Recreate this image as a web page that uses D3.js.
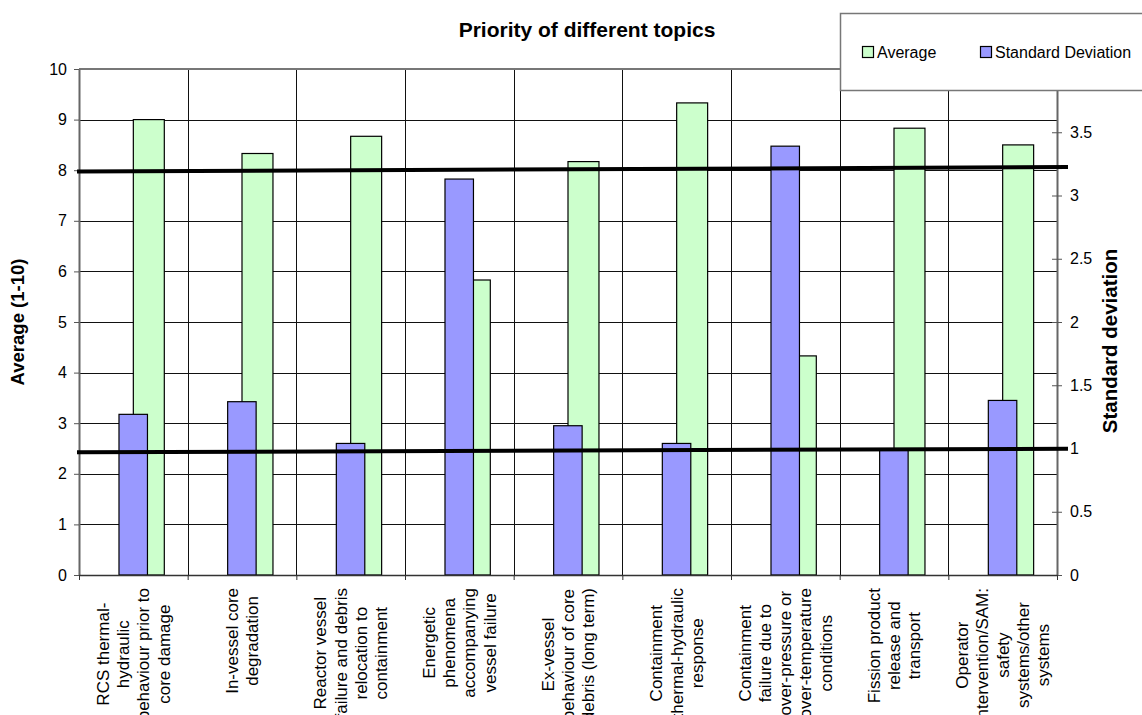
<!DOCTYPE html>
<html>
<head>
<meta charset="utf-8">
<style>
body { margin: 0; background: #fff; }
svg { display: block; font-family: "Liberation Sans", Arial, sans-serif; }
</style>
</head>
<body>
<svg width="1142" height="715"></svg>
<script src="https://cdn.jsdelivr.net/npm/d3@7"></script>
<script>
// topic labels, one entry per line of the wrapped label
var topics = [
    ["RCS thermal-", "hydraulic", "behaviour prior to", "core damage"],
    ["In-vessel core", "degradation"],
    ["Reactor vessel", "failure and debris", "relocation to", "containment"],
    ["Energetic", "phenomena", "accompanying", "vessel failure"],
    ["Ex-vessel", "behaviour of core", "debris (long term)"],
    ["Containment", "thermal-hydraulic", "response"],
    ["Containment", "failure due to", "over-pressure or", "over-temperature", "conditions"],
    ["Fission product", "release and", "transport"],
    ["Operator", "intervention/SAM:", "safety", "systems/other", "systems"]
];
var average = [9.0, 8.33, 8.67, 5.83, 8.17, 9.33, 4.33, 8.83, 8.5];
var stdDev = [1.27, 1.37, 1.04, 3.13, 1.18, 1.04, 3.39, 0.99, 1.38];
var avgTicks = [0, 1, 2, 3, 4, 5, 6, 7, 8, 9, 10];
var stdTicks = [0, 0.5, 1, 1.5, 2, 2.5, 3, 3.5];
// hand drawn threshold lines, in standard deviation units (left end, right end)
var thresholds = [[3.19, 3.225], [0.97, 0.998]];

var svg = d3.select("svg"),
    margin = { top: 69, right: 85, bottom: 140, left: 79 },
    width = +svg.attr("width") - margin.left - margin.right,
    height = +svg.attr("height") - margin.top - margin.bottom;

var x = d3.scaleBand().domain(d3.range(topics.length)).range([0, width]);
var xEdge = d3.scaleLinear().domain([0, topics.length]).range([0, width]);
var yAvg = d3.scaleLinear().domain([0, 10]).range([height, 0]);
var yStd = d3.scaleLinear().domain([0, 4]).range([height, 0]);
var bw = x.bandwidth();

var g = svg.append("g")
    .attr("transform", "translate(" + margin.left + "," + margin.top + ")");

// gridlines
g.append("g").selectAll("line")
    .data(avgTicks.slice(1, -1))
    .enter().append("line")
    .attr("x1", 0).attr("x2", width)
    .attr("y1", function (d) { return Math.round(yAvg(d)) + 0.5; })
    .attr("y2", function (d) { return Math.round(yAvg(d)) + 0.5; })
    .attr("stroke", "#111").attr("stroke-width", 1);

g.append("g").selectAll("line")
    .data(d3.range(1, topics.length))
    .enter().append("line")
    .attr("x1", function (d) { return Math.round(xEdge(d)) + 0.5; })
    .attr("x2", function (d) { return Math.round(xEdge(d)) + 0.5; })
    .attr("y1", 0).attr("y2", height)
    .attr("stroke", "#111").attr("stroke-width", 1);

g.append("line")
    .attr("x1", 0).attr("x2", width).attr("y1", 0).attr("y2", 0)
    .attr("stroke", "#777").attr("stroke-width", 2);

// bars: average first, std dev drawn over it
g.append("g").selectAll("rect")
    .data(average)
    .enter().append("rect")
    .attr("x", function (d, i) { return x(i) + bw * 0.5; })
    .attr("width", bw * 0.285)
    .attr("y", function (d) { return yAvg(d); })
    .attr("height", function (d) { return height - yAvg(d); })
    .attr("fill", "#ccffcc")
    .attr("stroke", "#000").attr("stroke-width", 1.2);

g.append("g").selectAll("rect")
    .data(stdDev)
    .enter().append("rect")
    .attr("x", function (d, i) { return x(i) + bw * 0.368; })
    .attr("width", bw * 0.262)
    .attr("y", function (d) { return yStd(d); })
    .attr("height", function (d) { return height - yStd(d); })
    .attr("fill", "#9999ff")
    .attr("stroke", "#000").attr("stroke-width", 1.2);

// axes
var leftAxis = g.append("g")
    .call(d3.axisLeft(yAvg).tickValues(avgTicks).tickSize(5).tickPadding(7).tickSizeOuter(0));
leftAxis.select(".domain").attr("stroke", "#666").attr("stroke-width", 2);
leftAxis.selectAll("line").attr("stroke", "#555");
leftAxis.selectAll("text").attr("font-size", 16).attr("fill", "#000").attr("font-family", null);

var rightAxis = g.append("g")
    .attr("transform", "translate(" + width + ",0)")
    .call(d3.axisRight(yStd).tickValues(stdTicks).tickSize(5).tickPadding(8).tickSizeOuter(0)
        .tickFormat(function (d) { return String(d); }));
rightAxis.select(".domain").attr("stroke", "#666").attr("stroke-width", 2);
rightAxis.selectAll(".tick line").attr("x1", -5).attr("stroke", "#555");
rightAxis.selectAll("text").attr("font-size", 16).attr("fill", "#000").attr("font-family", null);

var bottomAxis = g.append("g")
    .attr("transform", "translate(0," + height + ")")
    .call(d3.axisBottom(xEdge).tickValues(d3.range(topics.length + 1)).tickFormat("").tickSize(5).tickSizeOuter(0));
bottomAxis.select(".domain").attr("stroke", "#333").attr("stroke-width", 1.5);
bottomAxis.selectAll("line").attr("stroke", "#333");

// threshold lines
var refLine = d3.line()
    .x(function (d, i) { return i === 0 ? -2 : width + 11; })
    .y(function (d) { return yStd(d); });

g.append("g").selectAll("path")
    .data(thresholds)
    .enter().append("path")
    .attr("d", refLine)
    .attr("fill", "none")
    .attr("stroke", "#000")
    .attr("stroke-width", 4);

// category labels, rotated, centred lines
var lh = 20.2;
var labels = g.append("g").selectAll("g")
    .data(topics)
    .enter().append("g");

labels.each(function (lines, i) {
    var lab = d3.select(this);
    var t = lab.append("text")
        .attr("text-anchor", "middle")
        .attr("font-size", 17)
        .attr("fill", "#000");
    t.selectAll("tspan")
        .data(lines)
        .enter().append("tspan")
        .attr("x", 0)
        .attr("y", function (d, j) { return (j - (lines.length - 1) / 2) * lh; })
        .attr("dy", "0.35em")
        .text(function (d) { return d; });
    var maxLen = d3.max(t.selectAll("tspan").nodes(), function (n) { return n.getComputedTextLength(); });
    lab.attr("transform", "translate(" + (x(i) + bw / 2) + "," + (height + 13 + maxLen / 2) + ") rotate(-90)");
});

// titles
svg.append("text")
    .attr("x", 587).attr("y", 37)
    .attr("text-anchor", "middle")
    .attr("font-size", 21).attr("font-weight", "bold")
    .text("Priority of different topics");

svg.append("text")
    .attr("transform", "translate(24," + (margin.top + height / 2) + ") rotate(-90)")
    .attr("text-anchor", "middle")
    .attr("font-size", 18.5).attr("font-weight", "bold")
    .text("Average (1-10)");

svg.append("text")
    .attr("transform", "translate(1117,341) rotate(-90)")
    .attr("text-anchor", "middle")
    .attr("font-size", 20.5).attr("font-weight", "bold")
    .text("Standard deviation");

// legend
var legend = svg.append("g");
legend.append("rect")
    .attr("x", 840.5).attr("y", 13.5)
    .attr("width", 320).attr("height", 77)
    .attr("fill", "#fff")
    .attr("stroke", "#777").attr("stroke-width", 1.5);

var items = [{ name: "Average", color: "#ccffcc", x: 862 }, { name: "Standard Deviation", color: "#9999ff", x: 980 }];
var item = legend.selectAll(".item")
    .data(items)
    .enter().append("g")
    .attr("class", "item")
    .attr("transform", function (d) { return "translate(" + d.x + ",0)"; });
item.append("rect")
    .attr("x", 0.5).attr("y", 46.5)
    .attr("width", 11).attr("height", 11)
    .attr("fill", function (d) { return d.color; })
    .attr("stroke", "#000").attr("stroke-width", 1.2);
item.append("text")
    .attr("x", 15).attr("y", 58)
    .attr("font-size", 16)
    .text(function (d) { return d.name; });
</script>
</body>
</html>
